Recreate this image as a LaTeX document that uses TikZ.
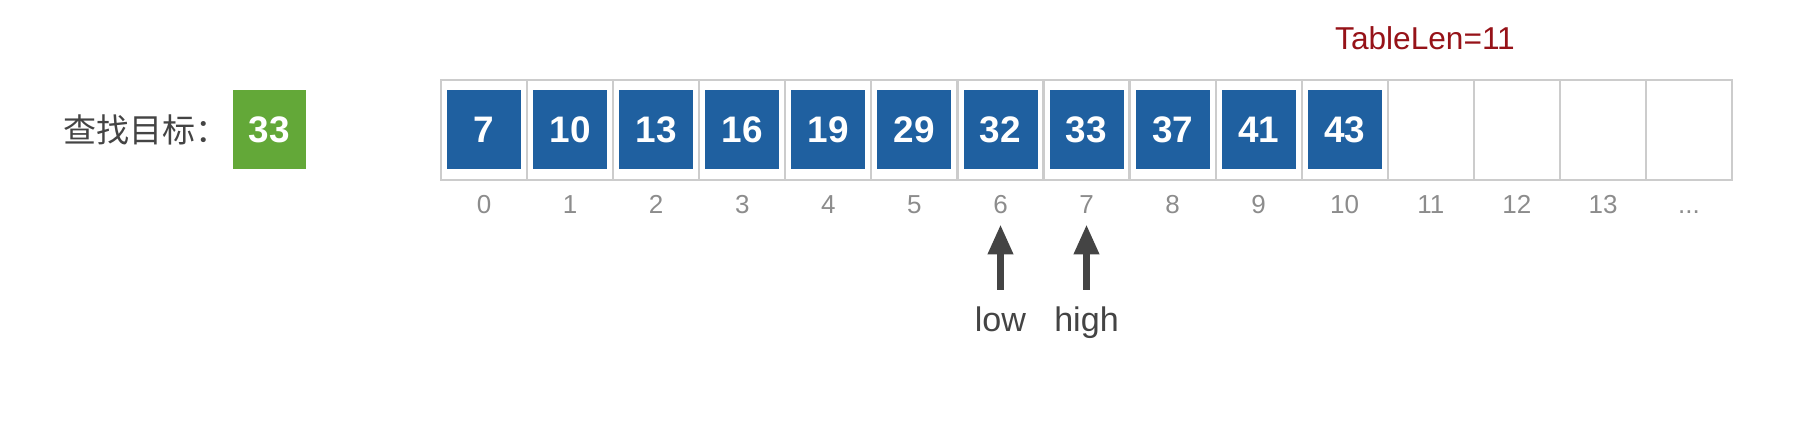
\documentclass[tikz,border=0pt]{standalone}
\usepackage{fontspec}
\setmainfont{Liberation Sans}
\newfontfamily\cjkfont{Noto Sans CJK SC}
\usetikzlibrary{arrows.meta, positioning}
\definecolor{arrblue}{RGB}{31, 96, 160}
\definecolor{keygreen}{RGB}{99, 168, 56}
\definecolor{lenred}{RGB}{150, 18, 24}
\definecolor{idxgray}{RGB}{140, 140, 140}
\definecolor{ptrgray}{RGB}{68, 68, 68}

\begin{document}
\begin{tikzpicture}[
  cell/.style={draw=gray!40, line width=0.6pt, minimum width=0.8607cm, minimum height=1cm, inner sep=0pt},
  val/.style={fill=arrblue, text=white, minimum width=0.74cm, minimum height=0.79cm, inner sep=0pt, font=\fontsize{10.5}{10.5}\selectfont\bfseries},
  keybox/.style={fill=keygreen, text=white, minimum width=0.73cm, minimum height=0.79cm, inner sep=0pt, font=\fontsize{10.5}{10.5}\selectfont\bfseries},
  idx/.style={text=idxgray, inner sep=0pt, text height=0.18cm, text depth=0pt, font=\fontsize{7.4}{7.4}\selectfont},
  ptr/.style={draw=ptrgray, line width=0.07cm, -{Triangle[length=0.3cm, width=0.24cm]}},
  ptrlabel/.style={text=ptrgray, inner sep=0pt, anchor=base, font=\fontsize{9.7}{9.7}\selectfont}
]
  \useasboundingbox (0, 0) rectangle (18.2, -4.28);

  \node[keybox] (key) at (2.695, -1.295) {33};
  \node[inner sep=0pt, text=ptrgray, font=\cjkfont\fontsize{9.4}{9.4}\selectfont, left=0.03cm of key] (target) {查找目标：};

  \node[inner sep=0pt, text=lenred, font=\fontsize{9}{9}\selectfont] (len) at (14.25, -0.38) {TableLen=11};

  \node[cell] (c0) at (4.840, -1.30) {};
  \node[cell] (c1) at (5.701, -1.30) {};
  \node[cell] (c2) at (6.562, -1.30) {};
  \node[cell] (c3) at (7.423, -1.30) {};
  \node[cell] (c4) at (8.283, -1.30) {};
  \node[cell] (c5) at (9.144, -1.30) {};
  \node[cell] (c6) at (10.005, -1.30) {};
  \node[cell] (c7) at (10.865, -1.30) {};
  \node[cell] (c8) at (11.726, -1.30) {};
  \node[cell] (c9) at (12.587, -1.30) {};
  \node[cell] (c10) at (13.447, -1.30) {};
  \node[cell] (c11) at (14.308, -1.30) {};
  \node[cell] (c12) at (15.169, -1.30) {};
  \node[cell] (c13) at (16.030, -1.30) {};
  \node[cell] (c14) at (16.890, -1.30) {};

  \node[val] (v0) at (c0) {7};
  \node[val] (v1) at (c1) {10};
  \node[val] (v2) at (c2) {13};
  \node[val] (v3) at (c3) {16};
  \node[val] (v4) at (c4) {19};
  \node[val] (v5) at (c5) {29};
  \node[val] (v6) at (c6) {32};
  \node[val] (v7) at (c7) {33};
  \node[val] (v8) at (c8) {37};
  \node[val] (v9) at (c9) {41};
  \node[val] (v10) at (c10) {43};

  \node[idx, below=0.14cm of c0] (i0) {0};
  \node[idx, below=0.14cm of c1] (i1) {1};
  \node[idx, below=0.14cm of c2] (i2) {2};
  \node[idx, below=0.14cm of c3] (i3) {3};
  \node[idx, below=0.14cm of c4] (i4) {4};
  \node[idx, below=0.14cm of c5] (i5) {5};
  \node[idx, below=0.14cm of c6] (i6) {6};
  \node[idx, below=0.14cm of c7] (i7) {7};
  \node[idx, below=0.14cm of c8] (i8) {8};
  \node[idx, below=0.14cm of c9] (i9) {9};
  \node[idx, below=0.14cm of c10] (i10) {10};
  \node[idx, below=0.14cm of c11] (i11) {11};
  \node[idx, below=0.14cm of c12] (i12) {12};
  \node[idx, below=0.14cm of c13] (i13) {13};
  \node[idx, below=0.14cm of c14] (i14) {...};

  \node[ptrlabel] (low) at (10.005, -3.32) {low};
  \node[ptrlabel] (high) at (10.865, -3.32) {high};
  \draw[ptr, shorten <=0.17cm, shorten >=0.1cm] (low.north) -- (i6.south);
  \draw[ptr, shorten <=0.17cm, shorten >=0.1cm] (high.north) -- (i7.south);
\end{tikzpicture}
\end{document}
